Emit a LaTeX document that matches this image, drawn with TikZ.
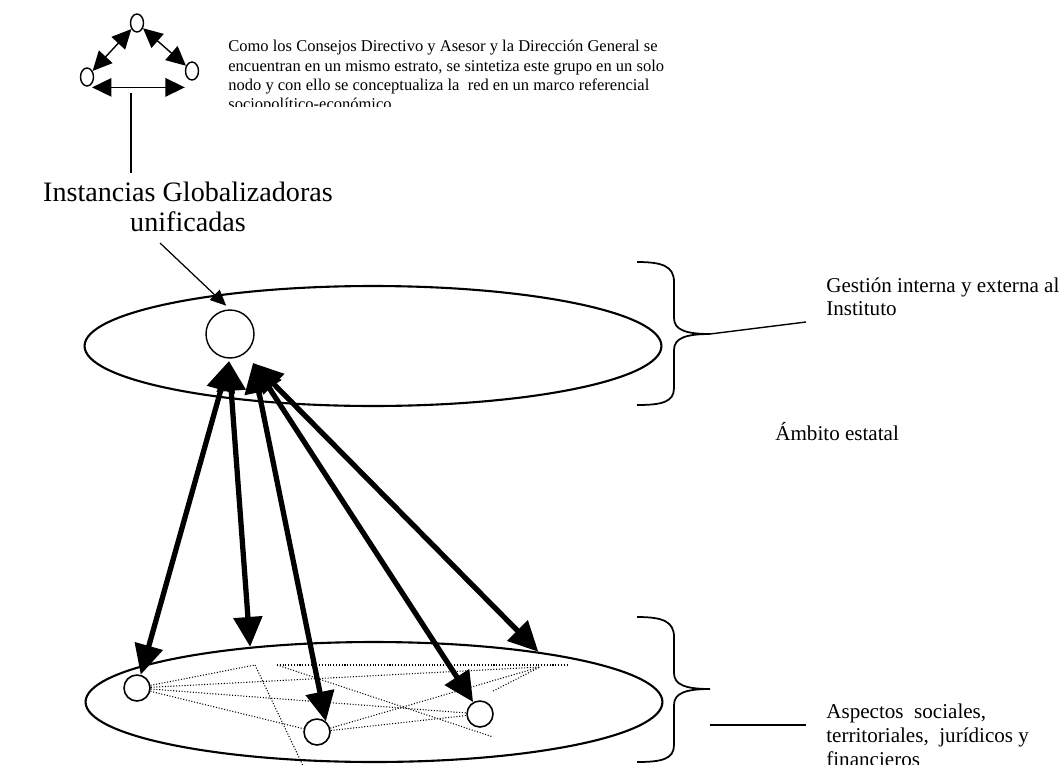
\documentclass[tikz,border=0pt]{standalone}
\usepackage{fontspec}
\setmainfont{Liberation Serif}
\usetikzlibrary{arrows.meta, shapes.geometric}
\tikzset{
  plane/.style   ={draw, ellipse, minimum width=11.54cm, minimum height=2.4cm, inner sep=0pt, line width=1.2pt},
  hubv/.style    ={draw, circle, minimum size=0.96cm, inner sep=0pt, line width=0.8pt},
  subv/.style    ={draw, circle, minimum size=0.52cm, inner sep=0pt, line width=0.9pt},
  tinyv/.style   ={draw, ellipse, minimum width=0.26cm, minimum height=0.36cm, inner sep=0pt, line width=0.8pt},
  spoke/.style   ={{Triangle[length=17pt,width=16pt]}-{Triangle[length=17pt,width=16pt]}, line width=3pt}, % plane <-> plane
  tri/.style     ={{Triangle[length=11pt,width=10.5pt]}-{Triangle[length=11pt,width=10.5pt]}, line width=0.8pt},
  pointer/.style ={-{Triangle[length=9pt,width=8pt]}, line width=0.7pt},
  mesh/.style    ={densely dotted, line width=0.6pt},
  brc/.style     ={line width=1pt},
  lead/.style    ={line width=0.8pt},
  note/.style    ={font=\fontsize{9.4}{11}\selectfont, align=left, inner sep=0pt},
  side/.style    ={font=\fontsize{12}{13.4}\selectfont, align=left, inner sep=0pt},
  capt/.style    ={font=\fontsize{16}{16.6}\selectfont, align=center, inner sep=0pt},
}

\begin{document}
\begin{tikzpicture}[x=0.02cm, y=-0.02cm]
  \useasboundingbox (0,0) rectangle (1061,764);

  % TOP LEFT: the three bodies, folded into one node
  \node[tinyv] (tt) at (137,23) {};
  \node[tinyv] (tl) at (87,77)  {};
  \node[tinyv] (tr) at (192,71) {};
  \draw[tri] (tl) -- (tt);
  \draw[tri] (tt) -- (tr);
  \draw[tri] ([yshift=-2pt]tl.south east) -- ([yshift=-2pt]tl.south east -| tr.west);
  \coordinate (stem) at (131,93);
  \node[capt, anchor=north] (inst) at (188,182) {Instancias Globalizadoras\\unificadas};
  \draw[lead, shorten >=5pt] (stem) -- (stem |- inst.north);

  % note (cut by its text box)
  \begin{scope}
    \clip (220,25) rectangle (700,106);
    \node[note, anchor=north west] (txt) at (228,40)
      {Como los Consejos Directivo y Asesor y la Dirección General se\\
       encuentran en un mismo estrato, se sintetiza este grupo en un solo\\
       nodo y con ello se conceptualiza la\ \ red en un marco referencial\\
       sociopolítico-económico.};
  \end{scope}

  % UPPER PLANE
  \node[plane] (top) at (373,346) {};
  \node[hubv]  (g)   at (230,334) {};
  \coordinate (lblfoot) at (160,243);
  \draw[pointer, shorten >=3pt] (lblfoot) -- (g.north);

  % LOWER PLANE
  \node[plane] (bot) at (374,702) {};
  \node[subv] (c1) at (137,688) {};
  \node[subv] (c2) at (317,732) {};
  \node[subv] (c3) at (480,714) {};
  \coordinate (mA) at (255,665);
  \coordinate (mB) at (277,665);
  \coordinate (mQ) at (567,665);
  \coordinate (mP) at (540,667);
  \coordinate (mR) at (493,691);
  \coordinate (mS) at (493,737);
  \coordinate (mT) at (305,770);
  \draw[mesh] (c1) -- (mA);
  \draw[mesh] (c1) -- (mP);
  \draw[mesh] (c1) -- (c3);
  \draw[mesh] (c1) -- (c2);
  \draw[mesh] (mA) -- (mT);
  \draw[mesh] (mB) -- (mQ);
  \draw[mesh] (mB) -- (mS);
  \draw[mesh] (c2) -- (mP);
  \draw[mesh] (c2) -- (c3);
  \draw[mesh] (mR) -- (mP);

  % spokes between the planes
  \coordinate (hubL) at (229,361);
  \coordinate (hubR) at (253,363);
  \draw[spoke] (hubL) -- (c1);
  \draw[spoke] (hubL) -- (bot.156);
  \draw[spoke] (hubR) -- (c2.50);
  \draw[spoke] (hubR) -- (c3.120);
  \draw[spoke] (hubR) -- (bot.17);

  % RIGHT: braces and labels
  \draw[brc] (637,262) .. controls (662,262) and (674,266) .. (674,282) -- (674,318)
    .. controls (674,330) and (686,334) .. (710,334)
    .. controls (686,334) and (674,338) .. (674,350) -- (674,388)
    .. controls (674,402) and (662,405) .. (637,405);
  \coordinate (brtipA) at (710,334);
  \coordinate (gestfoot) at (806,322);
  \draw[lead] (brtipA) -- (gestfoot);
  \node[side, anchor=north west] (gest) at (826,277) {Gestión interna y externa al\\Instituto};

  \node[side, anchor=base west] (amb) at (775,440) {Ámbito estatal};

  \draw[brc] (637,617) .. controls (662,617) and (674,621) .. (674,637) -- (674,673)
    .. controls (674,685) and (686,689) .. (710,689)
    .. controls (686,689) and (674,693) .. (674,705) -- (674,745)
    .. controls (674,759) and (662,762) .. (637,762);
  \coordinate (aspL) at (710,725);
  \coordinate (aspR) at (806,725);
  \draw[lead] (aspL) -- (aspR);
  \node[side, anchor=north west] (asp) at (826,704)
    {Aspectos\ \ sociales,\\territoriales,\ \ jurídicos y\\financieros};
\end{tikzpicture}
\end{document}
